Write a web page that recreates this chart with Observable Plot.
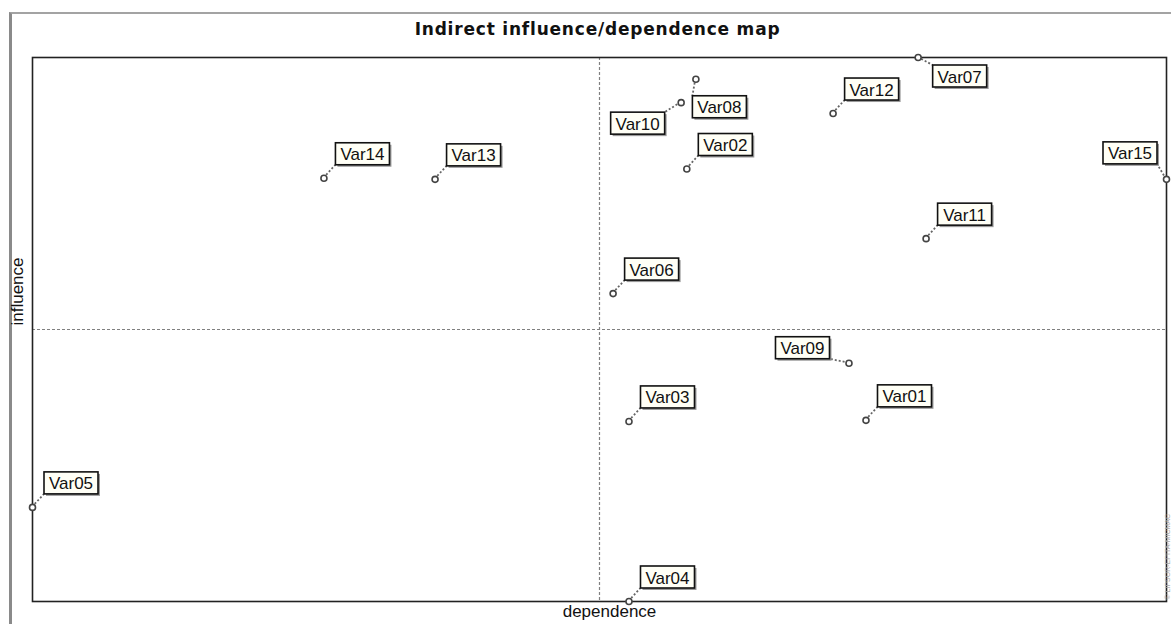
<!DOCTYPE html>
<html>
<head>
<meta charset="utf-8">
<script src="https://cdn.jsdelivr.net/npm/d3@7"></script>
<script src="https://cdn.jsdelivr.net/npm/@observablehq/plot@0.6"></script>
<style>
  body { margin: 0; background: #fff; width: 1171px; height: 624px; overflow: hidden; position: relative; }
  #border { position: absolute; left: 9px; top: 12px; width: 1162px; height: 612px; border-left: 3px solid #8a8a8a; border-top: 2px solid #a3a3a3; box-sizing: border-box; }
  #title { position: absolute; left: 0; top: 19px; width: 1195px; text-align: center; font: bold 17px "DejaVu Sans", sans-serif; letter-spacing: 0.8px; color: #111; line-height: 20px; }
  #chart { position: absolute; left: 0; top: 40px; }
</style>
</head>
<body>
<div id="border"></div>
<div id="title">Indirect influence/dependence map</div>
<div id="chart"></div>
<script>
// ---- data ----
const names      = ["Var01","Var02","Var03","Var04","Var05","Var06","Var07","Var08","Var09","Var10","Var11","Var12","Var13","Var14","Var15"];
const dependence = [73.5, 57.7, 52.6, 52.6, 0.0, 51.2, 78.1, 58.5, 72.0, 57.2, 78.8, 70.6, 35.5, 25.7, 100.0];
const influence  = [33.3, 79.5, 33.1, 0.0, 17.3, 56.6, 100.0, 96.0, 43.8, 91.7, 66.7, 89.7, 77.6, 77.8, 77.6];
// label placement relative to its point (style)
const placement  = ["ne","ne","ne","ne","ne","ne","se","s","w","sw","ne","ne","ne","ne","nw"];
const placeOffsets = { ne: [39, -24], se: [42, 19], s: [24, 28], sw: [-43, 21], w: [-46, -15], nw: [-36, -26] };
const midX = 50, midY = 50;

const points = names.map((n, i) => ({ name: n, dependence: dependence[i], influence: influence[i], place: placement[i] }));

const boxW = 54, boxH = 22;

const labels = Plot.text(points, {
  x: "dependence", y: "influence", text: "name",
  render(index, scales, values) {
    const g = d3.create("svg:g");
    for (const i of index) {
      const px = values.x[i], py = values.y[i];
      const [ox, oy] = placeOffsets[points[i].place];
      const cx = px + ox, cy = py + oy;
      const cornerX = px > cx ? cx + boxW / 2 : cx - boxW / 2;
      const cornerY = py > cy ? cy + boxH / 2 : cy - boxH / 2;
      g.append("line")
        .attr("x1", px).attr("y1", py).attr("x2", cornerX).attr("y2", cornerY)
        .attr("stroke", "#666").attr("stroke-width", 1.8).attr("stroke-dasharray", "2,2");
      g.append("rect")
        .attr("x", cx - boxW / 2 + 2).attr("y", cy - boxH / 2 + 2).attr("width", boxW).attr("height", boxH)
        .attr("fill", "#9a9a9a");
      g.append("rect")
        .attr("x", cx - boxW / 2).attr("y", cy - boxH / 2).attr("width", boxW).attr("height", boxH)
        .attr("fill", "#fffff6").attr("stroke", "#111").attr("stroke-width", 1.6);
      g.append("text")
        .attr("x", cx).attr("y", cy + 1).attr("text-anchor", "middle").attr("dominant-baseline", "central")
        .attr("font-family", "'Liberation Sans', Arial, sans-serif").attr("font-size", 17).attr("fill", "#111")
        .text(names[i]);
    }
    return g.node();
  }
});

const chart = Plot.plot({
  width: 1171,
  height: 584,
  marginTop: 17,
  marginBottom: 23,
  marginLeft: 32,
  marginRight: 5,
  x: { domain: [0, 100], axis: null },
  y: { domain: [0, 100], axis: null },
  style: { background: "transparent", fontFamily: "'Liberation Sans', Arial, sans-serif" },
  marks: [
    Plot.ruleX([midX], { stroke: "#808080", strokeWidth: 1.2, strokeDasharray: "3,2" }),
    Plot.ruleY([midY], { stroke: "#808080", strokeWidth: 1.2, strokeDasharray: "3,2" }),
    Plot.frame({ stroke: "#222", strokeWidth: 1.6 }),
    labels,
    Plot.dot(points, { x: "dependence", y: "influence", r: 3, stroke: "#444", strokeWidth: 1.6, fill: "#fff" }),
    Plot.text(["dependence"], { frameAnchor: "bottom", textAnchor: "middle", lineAnchor: "top", dx: 10, dy: 3, fontSize: 17, fill: "#111" }),
    Plot.text(["influence"], { frameAnchor: "left", textAnchor: "middle", rotate: -90, dx: -15, dy: -38, fontSize: 17, fill: "#111" }),
    Plot.text(["© LIPSOR-EPITA-MICMAC"], { frameAnchor: "bottom-right", rotate: -90, textAnchor: "start", dx: 3, dy: -2, fontSize: 7, fill: "#aaa", letterSpacing: 1.5 })
  ]
});
document.getElementById("chart").appendChild(chart);
</script>
</body>
</html>
